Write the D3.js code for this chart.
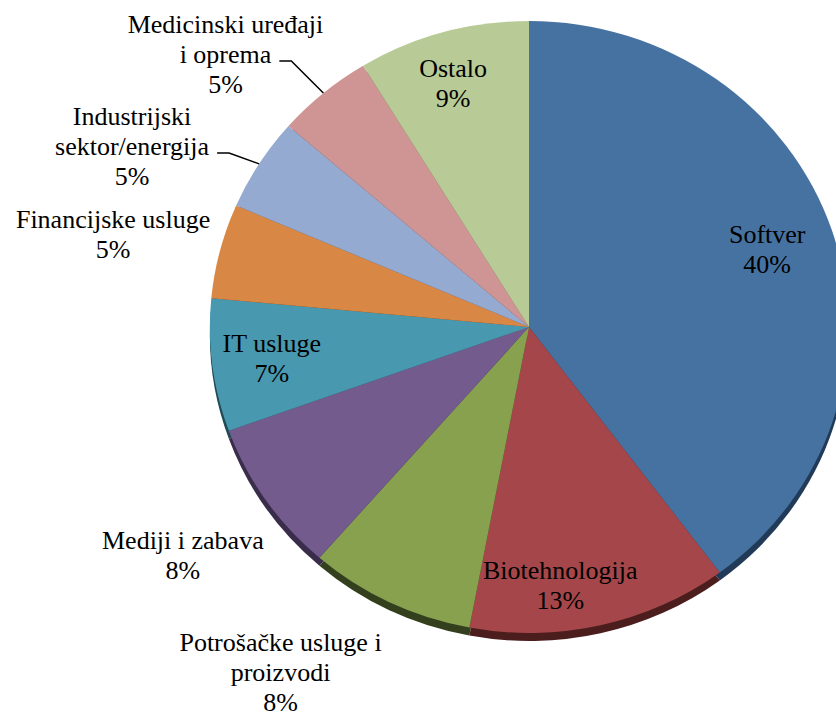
<!DOCTYPE html>
<html>
<head>
<meta charset="utf-8">
<script src="https://cdnjs.cloudflare.com/ajax/libs/d3/7.8.5/d3.min.js"></script>
<style>
    body { margin: 0; background: #fff; }
    text { font-family: "Liberation Serif", "Times New Roman", serif; font-size: 26px; fill: #000; }
</style>
</head>
<body>
<div id="chart"></div>
<script>

// data
var categories = ["Softver", "Biotehnologija", "Potrošačke usluge i proizvodi", "Mediji i zabava",
    "IT usluge", "Financijske usluge", "Industrijski sektor/energija", "Medicinski uređaji i oprema", "Ostalo"];
var labelLines = [["Softver"], ["Biotehnologija"], ["Potrošačke usluge i", "proizvodi"], ["Mediji i zabava"],
    ["IT usluge"], ["Financijske usluge"], ["Industrijski", "sektor/energija"], ["Medicinski uređaji", "i oprema"], ["Ostalo"]];
var values = [39.8, 13.2, 8.4, 8.1, 7.0, 5.0, 4.9, 4.9, 8.7];
var colors = ["#4672a2", "#a5474a", "#87a14f", "#735b8d", "#4899b0", "#d98744", "#94aad0", "#cf9494", "#b8cb96"];
var rimColors = ["#213a58", "#4b1d1d", "#333f1d", "#3a2d4b", "#204a56", "#6a3f1c", "#4a5570", "#6a4646", "#5a6548"];

// label placement: inside (0.8) or outside (1.33) the rim, plus a hand nudge like in the original
var labelRadius = [0.8, 0.8, 1.33, 1.33, 0.8, 1.33, 1.33, 1.33, 0.8];
var labelNudge = [[-4, -1], [-26, 19], [-63, -21], [4, -2], [-4, 0], [-5, 8], [-38, 36], [-30, 38], [-7, -8]];
var hasLeader = [false, false, false, false, false, false, true, true, false];

var width = 836, height = 716;
var cx = 529, cy = 327, rx = 319, ry = 306, depth = 8;
var lineH = 30;

var svg = d3.select("#chart").append("svg")
    .attr("width", width)
    .attr("height", height);

var pie = d3.pie().sort(null).value(function(d) { return d; });
var slices = pie(values);

var arc = d3.arc().innerRadius(0).outerRadius(1);

// side of the 3D disc: same slices pushed down a little, darker
svg.append("g")
    .attr("transform", "translate(" + cx + "," + (cy + depth) + ") scale(" + rx + "," + ry + ")")
    .selectAll("path")
    .data(slices)
    .enter().append("path")
    .attr("d", arc)
    .attr("fill", function(d, i) { return rimColors[i]; });

// top surface
svg.append("g")
    .attr("transform", "translate(" + cx + "," + cy + ") scale(" + rx + "," + ry + ")")
    .selectAll("path")
    .data(slices)
    .enter().append("path")
    .attr("d", arc)
    .attr("fill", function(d, i) { return colors[i]; });

function ellipsePoint(angle, k) {
    return [cx + rx * k * Math.sin(angle), cy - ry * k * Math.cos(angle)];
}

var labels = svg.append("g");

slices.forEach(function(d, i) {
    var mid = (d.startAngle + d.endAngle) / 2;
    var p = ellipsePoint(mid, labelRadius[i]);
    var x = p[0] + labelNudge[i][0];
    var y = p[1] + labelNudge[i][1];

    var lines = labelLines[i].concat([Math.round(values[i]) + "%"]);
    var firstBase = y - (lines.length - 1) * lineH / 2 + 9;

    var t = labels.append("text")
        .attr("text-anchor", "middle");
    var spans = [];
    lines.forEach(function(line, j) {
        spans.push(t.append("tspan")
            .attr("x", x)
            .attr("y", firstBase + j * lineH)
            .text(line));
    });

    if(hasLeader[i]) {
        // leader from the end of the second text line to the rim
        var lastText = spans[lines.length - 2];
        var w = lastText.node().getComputedTextLength();
        var ly = firstBase + (lines.length - 2) * lineH - 2;
        var lx = x + w / 2 + 8;
        var end = ellipsePoint(mid, 1);
        svg.append("path")
            .attr("d", "M" + lx + "," + ly + "H" + (lx + 12) + "L" + end[0] + "," + end[1])
            .attr("fill", "none")
            .attr("stroke", "#000")
            .attr("stroke-width", 1.5);
    }
});

</script>
</body>
</html>
